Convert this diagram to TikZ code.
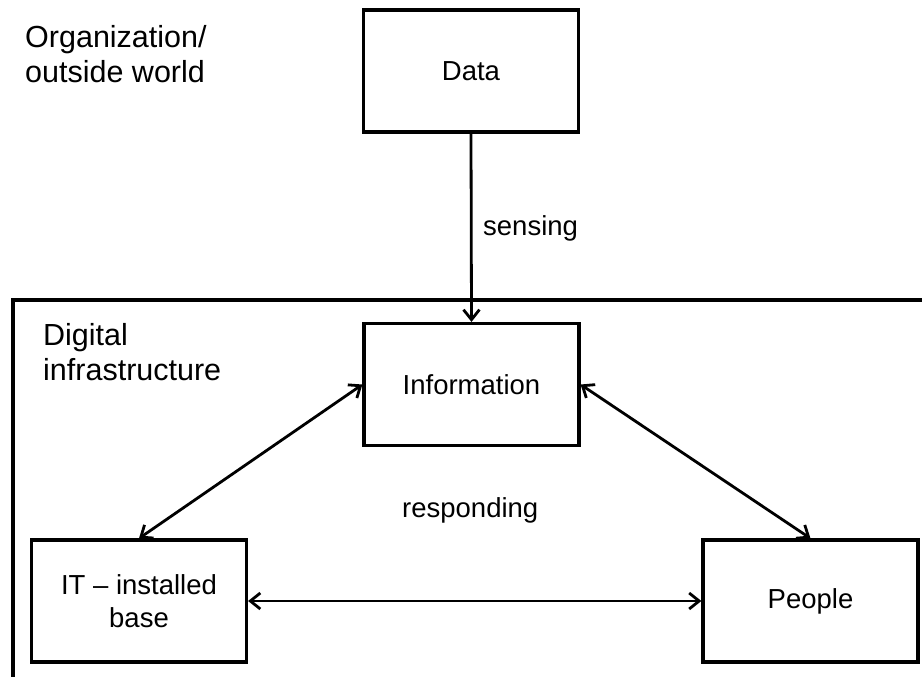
\documentclass[tikz,border=0pt]{standalone}
\usepackage{fontspec}
\setmainfont{Liberation Sans}
\usetikzlibrary{arrows.meta}

\tikzset{
  box/.style={draw, line width=3.2pt, minimum width=215pt, minimum height=122pt,
    inner sep=0pt, font=\fontsize{27.5}{33}\selectfont},
  label/.style={inner sep=0pt, anchor=base west, font=\fontsize{27.5}{33}\selectfont},
  region/.style={inner sep=0pt, anchor=north west, align=left,
    font=\fontsize{30.5}{35.5}\selectfont},
  tip/.style={Straight Barb[length=10pt,width=16pt]},
  link/.style={line width=2.8pt, {Straight Barb[length=10pt,width=16pt]}-{Straight Barb[length=10pt,width=16pt]}},
  feed/.style={line width=2.8pt, -{Straight Barb[length=10pt,width=16pt]}},
}

\begin{document}
\begin{tikzpicture}[x=1pt, y=-1pt]
  \useasboundingbox (0,0) rectangle (922,677);

  % open frame of the digital infrastructure
  \draw[line width=3.2pt] (922,300) -- (13,300) -- (13,677);

  % region captions
  \node[region] (org) at (25,25) {Organization/\\outside world};
  \node[region] (dig) at (43,323) {Digital\\infrastructure};

  % boxes
  \node[box] (data) at (471,71) {Data};
  \node[box] (info) at (471.5,384.5) {Information};
  \node[box, align=center] (it) at (139,601) {IT -- installed\\base};
  \node[box] (people) at (810.5,601) {People};

  % connectors
  \draw[feed] (data.south) -- (info.north);
  \draw[link] (info.west) -- (it.north);
  \draw[link] (info.east) -- (people.north);
  \draw[link] (it.east) -- (people.west);

  % connector labels
  \node[label] (sensing) at (483,235) {sensing};
  \node[label] (responding) at (402,517) {responding};
\end{tikzpicture}
\end{document}
